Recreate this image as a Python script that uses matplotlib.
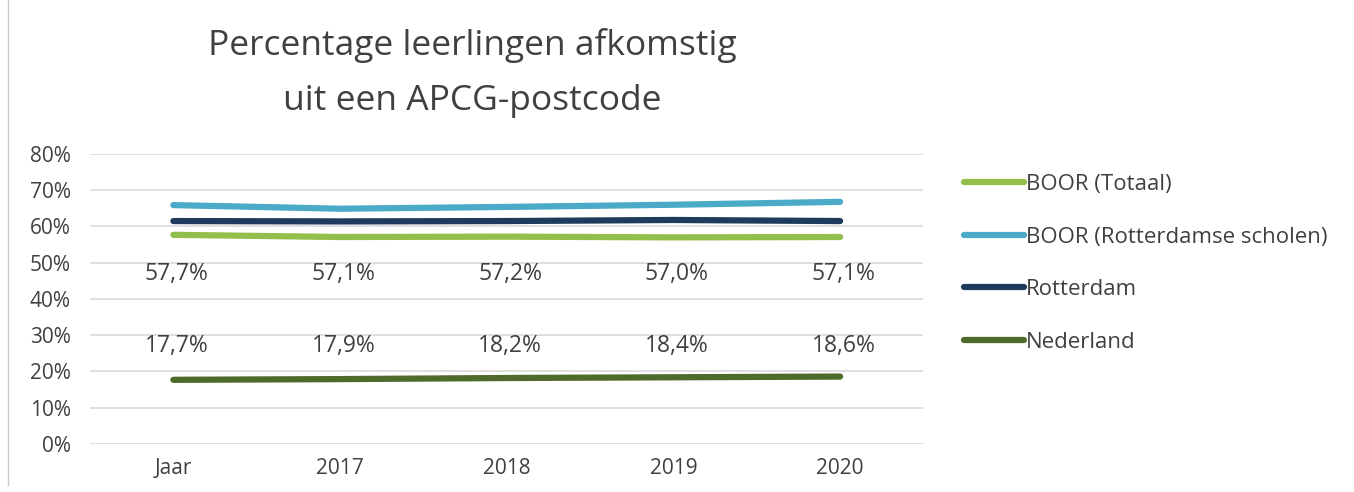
#!/usr/bin/env python3
import matplotlib.pyplot as plt
from matplotlib.lines import Line2D

years = ['Jaar', '2017', '2018', '2019', '2020']
boor_totaal = [57.7, 57.1, 57.2, 57.0, 57.1]
boor_rdam = [65.9, 64.9, 65.4, 66.0, 66.8]
rotterdam = [61.5, 61.4, 61.5, 61.8, 61.5]
nederland = [17.7, 17.9, 18.2, 18.4, 18.6]

series = [
    ('BOOR (Totaal)', boor_totaal, '#92BF4B'),
    ('BOOR (Rotterdamse scholen)', boor_rdam, '#4AAAC8'),
    ('Rotterdam', rotterdam, '#1E3A5C'),
    ('Nederland', nederland, '#4E6B2B'),
]

text_col = '#404040'
plt.rcParams['font.family'] = ['Open Sans', 'DejaVu Sans']

fig = plt.figure(figsize=(13.54, 4.92), dpi=100)
ax = fig.add_axes([0.0665, 0.0976, 0.6155, 0.5894])

x = list(range(len(years)))
for name, vals, col in series:
    ax.plot(x, vals, color=col, lw=4.5, solid_capstyle='round', label=name)

# data labels (sit between the lines, like the original)
for i in x:
    ax.text(i + 0.02, 46.8, f"{boor_totaal[i]:.1f}%".replace('.', ','), ha='center', va='center',
            fontsize=16.5, color=text_col)
    ax.text(i + 0.02, 27.0, f"{nederland[i]:.1f}%".replace('.', ','), ha='center', va='center',
            fontsize=16.5, color=text_col)

ax.set_xlim(-0.5, len(years) - 0.5)
ax.set_ylim(0, 80)
ax.set_yticks(range(0, 81, 10))
ax.set_yticklabels([f"{v}%" for v in range(0, 81, 10)])
ax.set_xticks(x)
ax.set_xticklabels(years)
ax.tick_params(axis='both', length=0, labelsize=15, colors=text_col)
ax.tick_params(axis='y', pad=14)
ax.tick_params(axis='x', pad=10)
ax.grid(axis='y', color='#D9D9D9', lw=1.2)
ax.set_axisbelow(True)
for s in ax.spines.values():
    s.set_visible(False)

handles = [Line2D([0], [0], color=c, lw=4.5, solid_capstyle='round') for _, _, c in series]
fig.legend(handles, [n for n, _, _ in series], loc='upper left',
           bbox_to_anchor=(0.697, 0.687), frameon=False, fontsize=16,
           labelcolor=text_col, handlelength=2.7, handletextpad=0.1,
           labelspacing=1.42)

fig.text(0.349, 0.851, 'Percentage leerlingen afkomstig\nuit een APCG-postcode',
         ha='center', va='center', fontsize=25.5, color=text_col, linespacing=1.8)

# thin border on the left edge of the original screenshot
fig.add_artist(Line2D([0.006, 0.006], [0.015, 1.0], color='#C8C8C8', lw=1))

fig.savefig('out.png', dpi=100)
